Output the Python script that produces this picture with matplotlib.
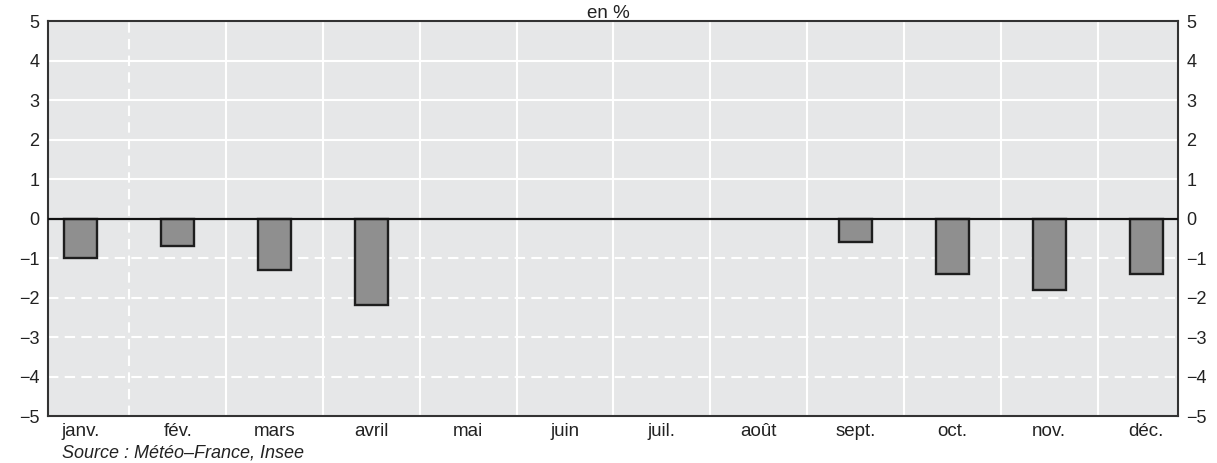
import matplotlib.pyplot as plt
import numpy as np

plt.rcParams['font.family'] = ['Liberation Sans', 'DejaVu Sans']

# Données (pas de valeur pour mai à août)
mois = ['janv.', 'fév.', 'mars', 'avril', 'mai', 'juin', 'juil.', 'août',
        'sept.', 'oct.', 'nov.', 'déc.']
valeurs = [-1.0, -0.7, -1.3, -2.2, np.nan, np.nan, np.nan, np.nan, -0.6, -1.4, -1.8, -1.4]
graduations = [-5, -4, -3, -2, -1, 0, 1, 2, 3, 4, 5]

fig = plt.figure(figsize=(12.17, 4.63), dpi=100)
ax = fig.add_axes([0.0394, 0.1015, 0.9286, 0.8531])
ax.set_facecolor('#e6e7e8')

x = np.arange(len(mois))

# Grille horizontale : pleine au-dessus de 0, pointillée en dessous
for g in graduations:
    if g > 0:
        ax.axhline(g, color='white', lw=1.5, zorder=1)
    elif g < 0:
        ax.axhline(g, color='white', lw=1.5, ls=(0, (5, 3)), zorder=1)

# Séparateurs verticaux entre les mois
for i in range(len(mois) - 1):
    ax.axvline(i + 0.5, color='white', lw=1.5, ls=(0, (5, 3)) if i == 0 else '-', zorder=1)

ax.bar(x, valeurs, width=0.34, color='#8f8f8f', edgecolor='#1e1e1e', linewidth=1.7, zorder=3)
ax.axhline(0, color='#111111', lw=1.6, zorder=4)

ax.set_xlim(-0.34, 11.33)
ax.set_ylim(-5, 5)
ax.set_xticks(x)
ax.set_xticklabels(mois)
ax.set_yticks(graduations)
ax.tick_params(axis='x', length=0, labelsize=13.5, colors='#222222', pad=5)
ax.tick_params(axis='y', length=0, labelsize=13, colors='#222222', pad=6,
               right=True, labelright=True)

for s in ax.spines.values():
    s.set_color('#333333')
    s.set_linewidth(1.5)

fig.text(0.5, 0.99, 'en %', ha='center', va='top', fontsize=13.5, color='#222222')
fig.text(0.051, 0.004, 'Source : Météo\u2013France, Insee', style='italic',
         fontsize=13, color='#222222', ha='left', va='bottom')

fig.savefig('out.png', dpi=100)
